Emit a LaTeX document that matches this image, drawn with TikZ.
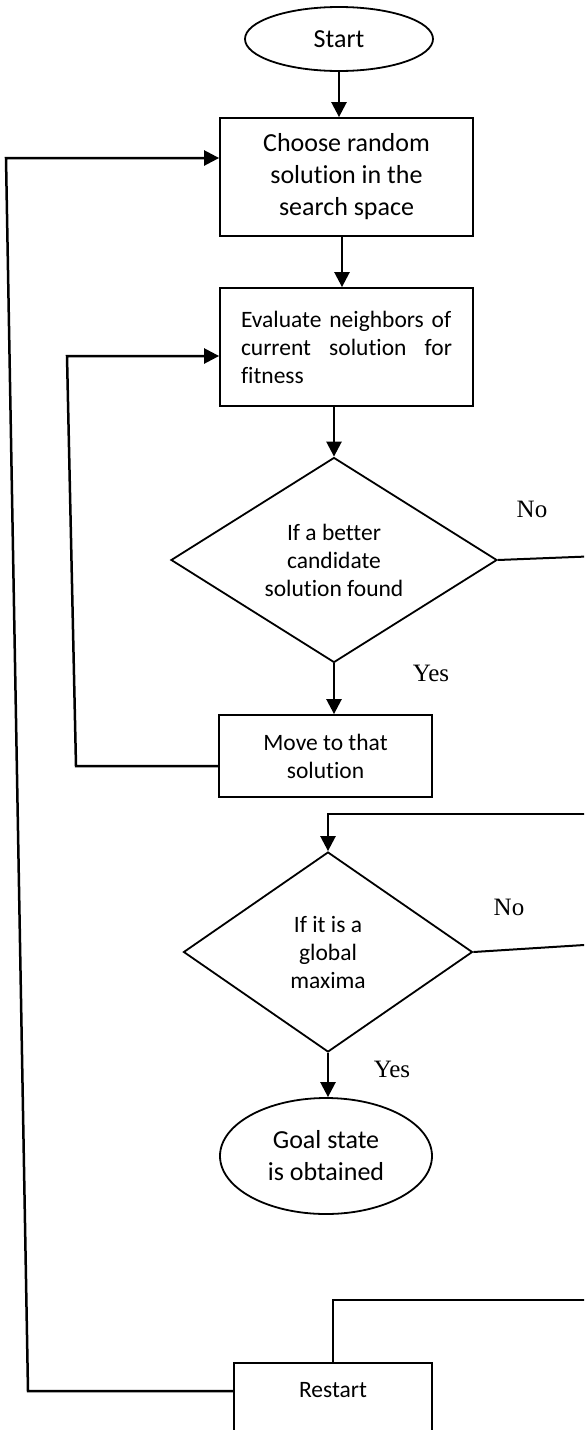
\documentclass[tikz,border=0pt]{standalone}
\usepackage{fontspec}
\setmainfont{Carlito}[Ligatures=CommonOff]
\newfontfamily\labelfont{Liberation Serif}
\usetikzlibrary{shapes.geometric,arrows.meta}

\begin{document}
\begin{tikzpicture}[x=1pt, y=-1pt,
		big/.style={font=\fontsize{26}{32}\selectfont},
		small/.style={font=\fontsize{23.5}{28}\selectfont},
		box/.style={rectangle, draw, line width=1.8pt, inner sep=0pt, align=center},
		oval/.style={ellipse, draw, line width=1.8pt, inner sep=0pt, align=center},
		decision/.style={diamond, draw, line width=1.8pt, inner sep=0pt, aspect=1.6, align=center, small},
		yn/.style={font=\labelfont\fontsize{25}{30}\selectfont},
		arr/.style={-{Triangle[length=15pt, width=15pt]}, line width=2.5pt},
		link/.style={line width=2pt}]
		\path[use as bounding box, clip] (0,0) rectangle (584,1430);
		%\draw[help lines, step=50] (0,0) grid (584,1430);
		
		\node[oval, big, minimum width=188pt, minimum height=64pt] (start) at (339,39) {Start};
		\node[box, big, minimum width=253pt, minimum height=118pt] (choose) at (346.5,177) {Choose random\\solution in the\\search space};
		\node[box, small, minimum width=253pt, minimum height=118pt, text width=211pt, align=left] (eval) at (346.5,347) {Evaluate neighbors of\\current\hfill solution\hfill for\\fitness};
		\node[decision, minimum width=326pt, minimum height=205pt] (better) at (334,560) {If a better\\candidate\\solution found};
		\node[box, small, minimum width=213pt, minimum height=82pt] (move) at (325.5,756) {Move to that\\solution};
		\node[decision, minimum width=289pt, minimum height=200pt] (global) at (328,952) {If it is a\\global\\maxima};
		\node[oval, big, minimum width=212pt, minimum height=116pt] (goal) at (326,1156) {Goal state\\is obtained};
		\node[box, small, minimum width=198pt, text height=16pt, text depth=60pt, inner ysep=19pt, anchor=north] (restart) at (333,1362) {Restart};
		
		\node[yn] (no1) at (532,509) {No};
		\node[yn] (yes1) at (431,673) {Yes};
		\node[yn] (no2) at (509,907) {No};
		\node[yn] (yes2) at (392,1069) {Yes};
		
		% loose ends past the right margin, and the bends of the two loops
		\coordinate (r1) at (600,556);
		\coordinate (r2) at (600,814);
		\coordinate (r3) at (600,944);
		\coordinate (r4) at (600,1300);
		\coordinate (outA) at (28,1391);
		\coordinate (outB) at (6,158);
		\coordinate (inA) at (76,766);
		\coordinate (inB) at (67,356);
		
		\draw[arr] (start) -- (start |- choose.north);
		\draw[arr] ([xshift=-4.5pt]choose.south) -- ([xshift=-4.5pt]eval.north);
		\draw[arr] (eval.south -| better.north) -- (better.north);
		\draw[arr] (better.south) -- (better.south |- move.north);
		\draw[link] (better.east) -- (r1);
		\draw[arr] (r2) -| (global.north);
		\draw[link] (global.east) -- (r3);
		\draw[arr] (global.south) -- (global.south |- goal.north);
		\draw[link] (restart.north) |- (r4);
		
		\draw[arr] (inA -| move.west) -- (inA) -- (inB) -- (inB -| eval.west);
		\draw[arr] (outA -| restart.west) -- (outA) -- (outB) -- (outB -| choose.west);
	\end{tikzpicture}
\end{document}
